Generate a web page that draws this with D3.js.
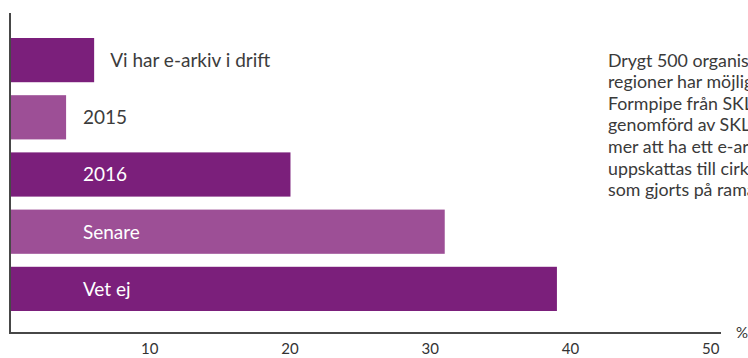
<!DOCTYPE html>
<html>
<head>
<meta charset="utf-8">
<script src="https://cdn.jsdelivr.net/npm/d3@7"></script>
<style>
	body { margin: 0; background: #fff; }
	svg { display: block; font-family: Lato, "Open Sans", sans-serif; }
</style>
</head>
<body>
<svg id="plot" width="748" height="358"></svg>
<script>
var categories = ['Vi har e-arkiv i drift', '2015', '2016', 'Senare', 'Vet ej'];
var values = [6, 4, 20, 31, 39];
var shades = ['dark', 'light', 'dark', 'light', 'dark'];
var tick_values = [10, 20, 30, 40, 50];
var unit_label = '%';
var note_lines = [
	'Drygt 500 organisationer, kommuner, landsting och',
	'regioner har möjlighet att avropa e-arkiv från',
	'Formpipe från SKL Kommentus. En enkät',
	'genomförd av SKL visar att allt fler',
	'mer att ha ett e-arkiv i drift. Antalet avrop',
	'uppskattas till cirka hälften av de avrop',
	'som gjorts på ramavtalet.'
];

var colors = {dark: '#7b1f7b', light: '#9d4f96'};

function whenDocumentLoaded(action) {
	if (document.readyState === "loading") {
		document.addEventListener("DOMContentLoaded", action);
	} else {
		action();
	}
}

class BarChart {
	constructor(id) {
		var svg = d3.select("#" + id);
		var xscale = d3.scaleLinear()
			.domain([0, 50.7])
			.range([10, 721]);
		var yscale = d3.scaleBand()
			.domain(categories)
			.range([38, 311])
			.paddingInner(0.227)
			.paddingOuter(0);

		var data = categories.map((c, i) => ({name: c, value: values[i], shade: shades[i]}));

		svg.selectAll("rect.bar")
			.data(data)
			.enter()
			.append("rect")
			.attr("class", "bar")
			.attr("x", xscale(0))
			.attr("y", d => yscale(d.name))
			.attr("width", d => xscale(d.value) - xscale(0))
			.attr("height", yscale.bandwidth())
			.attr("fill", d => colors[d.shade]);

		// labels: inside the bar when it is long enough, otherwise just after it
		var inside_x = xscale(5.2);
		svg.selectAll("text.lbl")
			.data(data)
			.enter()
			.append("text")
			.attr("class", "lbl")
			.attr("x", d => d.value < 10 ? Math.max(inside_x, xscale(d.value) + 16) : inside_x)
			.attr("y", d => yscale(d.name) + yscale.bandwidth() / 2)
			.attr("dy", "0.36em")
			.attr("font-size", 19)
			.attr("fill", d => d.value < 10 ? '#3c3c3c' : '#ffffff')
			.text(d => d.name);

		// axes
		var xaxis = d3.axisBottom(xscale)
			.tickValues(tick_values)
			.tickSize(0)
			.tickPadding(10);
		var gx = svg.append("g")
			.attr("transform", "translate(0,333)")
			.call(xaxis);
		gx.select(".domain").remove();
		gx.selectAll("text")
			.attr("font-family", "Lato, sans-serif")
			.attr("font-size", 15)
			.attr("fill", "#333")
			.attr("dx", -1);

		svg.append("line")
			.attr("x1", xscale(0)).attr("x2", xscale(50.7))
			.attr("y1", 333).attr("y2", 333)
			.attr("stroke", "#474747").attr("stroke-width", 2);
		svg.append("line")
			.attr("x1", xscale(0)).attr("x2", xscale(0))
			.attr("y1", 13).attr("y2", 334)
			.attr("stroke", "#474747").attr("stroke-width", 2);

		svg.append("text")
			.attr("x", 736)
			.attr("y", 338)
			.attr("font-size", 15)
			.attr("fill", "#333")
			.text(unit_label);

		// side note (runs past the right edge, as in the source)
		svg.append("g")
			.selectAll("text")
			.data(note_lines)
			.enter()
			.append("text")
			.attr("x", 608)
			.attr("y", (d, i) => 66.5 + i * 21.6)
			.attr("font-size", 17.8)
			.attr("fill", "#3a3a3a")
			.text(d => d);
	}
}

whenDocumentLoaded(() => {
	const chart = new BarChart('plot');
});
</script>
</body>
</html>
